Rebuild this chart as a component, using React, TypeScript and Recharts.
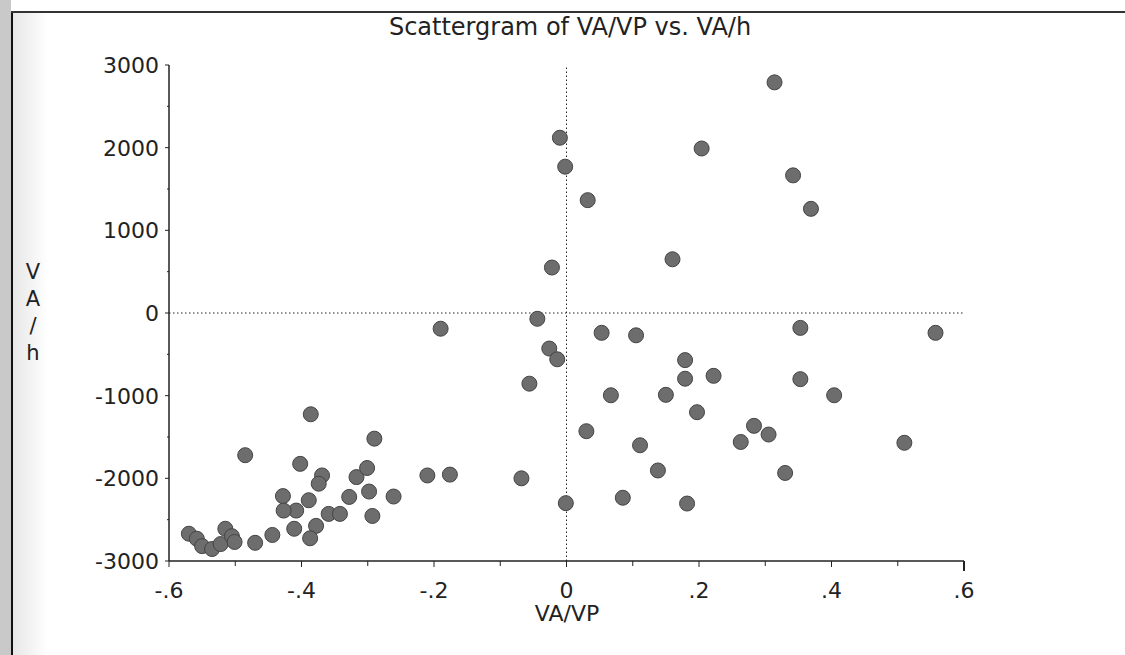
import React from "react";
import { ScatterChart, Scatter, XAxis, YAxis, ReferenceLine } from "recharts";

// VA/VP (x) and VA/h (y)
const vaVp = [
  0.314, -0.01, -0.002, 0.204, 0.342, 0.369, 0.032, 0.16, -0.022, -0.044,
  -0.19, -0.026, -0.014, -0.056, 0.053, 0.105, 0.179, 0.179, 0.067, 0.15,
  0.197, 0.03, 0.111, 0.138, -0.068, -0.001, 0.085, 0.182, 0.353, 0.557,
  0.222, 0.353, 0.404, 0.283, 0.305, 0.263, 0.51, 0.33,
  -0.176, -0.21, -0.386, -0.29, -0.485, -0.402, -0.369, -0.374, -0.317, -0.301,
  -0.298, -0.328, -0.261, -0.428, -0.389, -0.408, -0.427, -0.359, -0.342, -0.293,
  -0.411, -0.378, -0.387, -0.444, -0.47, -0.57, -0.558, -0.55, -0.535, -0.522,
  -0.515, -0.505, -0.501,
];
const vaH = [
  2790, 2120, 1770, 1990, 1665, 1260, 1365, 650, 550, -70,
  -190, -430, -560, -855, -240, -270, -570, -795, -995, -990,
  -1200, -1430, -1600, -1905, -2000, -2300, -2235, -2305, -180, -240,
  -760, -800, -995, -1365, -1470, -1560, -1570, -1935,
  -1955, -1965, -1225, -1520, -1720, -1825, -1965, -2065, -1985, -1875,
  -2160, -2225, -2220, -2215, -2265, -2390, -2390, -2430, -2430, -2455,
  -2610, -2575, -2725, -2685, -2780, -2670, -2730, -2820, -2855, -2795,
  -2610, -2700, -2770,
];

const xTicks = [-0.6, -0.5, -0.4, -0.3, -0.2, -0.1, 0, 0.1, 0.2, 0.3, 0.4, 0.5, 0.6];
const xTickLabels = ["-.6", "", "-.4", "", "-.2", "", "0", "", ".2", "", ".4", "", ".6"];
const yTicks = [-3000, -2500, -2000, -1500, -1000, -500, 0, 500, 1000, 1500, 2000, 2500, 3000];
const yTickLabels = ["-3000", "", "-2000", "", "-1000", "", "0", "", "1000", "", "2000", "", "3000"];

const points = vaVp.map((x, i) => ({ x, y: vaH[i] }));

const font = "'DejaVu Sans', sans-serif";
const ink = "#222";

function XTick(props: any) {
  const { x, y, index } = props;
  const label = xTickLabels[index];
  const end = index === xTicks.length - 1;
  return (
    <g>
      <line x1={x} x2={x} y1={y} y2={y + (end ? 10 : label ? 6 : 5)} stroke={ink} strokeWidth={end ? 2 : 1} />
      {label && (
        <text x={x} y={y + 37} textAnchor="middle" fontFamily={font} fontSize={22} fill={ink}>
          {label}
        </text>
      )}
    </g>
  );
}

function YTick(props: any) {
  const { x, y, index } = props;
  const label = yTickLabels[index];
  return (
    <g>
      <line x1={x - (label ? 4 : 2)} x2={x} y1={y} y2={y} stroke={ink} strokeWidth={1} />
      {label && (
        <text x={x - 10} y={y + 8} textAnchor="end" fontFamily={font} fontSize={22} fill={ink}>
          {label}
        </text>
      )}
    </g>
  );
}

function Dot(props: any) {
  return <circle cx={props.cx} cy={props.cy} r={7.5} fill="#6d6d6d" stroke="#444" strokeWidth={1} />;
}

export default function App() {
  return (
    <div style={{ position: "absolute", left: 0, top: 0, width: 1125, height: 655, background: "#fff", overflow: "hidden" }}>
      {/* scan frame */}
      <div style={{ position: "absolute", left: 0, top: 0, width: 11, height: 655, background: "#c9c9c9" }} />
      <div style={{ position: "absolute", left: 12, top: 12, width: 36, height: 643, background: "linear-gradient(to right, #e6e6e6, #ffffff)" }} />
      <div style={{ position: "absolute", left: 11, top: 11, width: 2, height: 644, background: "#111" }} />
      <div style={{ position: "absolute", left: 11, top: 11, width: 1114, height: 2, background: "#333" }} />

      <div style={{ position: "absolute", left: 0, top: 0 }}>
        <ScatterChart width={1125} height={655} margin={{ top: 65, right: 161, bottom: 44, left: 69 }}>
          <XAxis
            type="number"
            dataKey="x"
            domain={[-0.6, 0.6]}
            ticks={xTicks}
            interval={0}
            height={50}
            tickSize={0}
            tickMargin={0}
            tickLine={false}
            tick={<XTick />}
            axisLine={{ stroke: ink, strokeWidth: 1.5 }}
            allowDataOverflow
          />
          <YAxis
            type="number"
            dataKey="y"
            domain={[-3000, 3000]}
            ticks={yTicks}
            interval={0}
            width={100}
            tickSize={0}
            tickMargin={0}
            tickLine={false}
            tick={<YTick />}
            axisLine={{ stroke: ink, strokeWidth: 1.5 }}
            allowDataOverflow
          />
          <ReferenceLine y={0} stroke={ink} strokeDasharray="1.5 2.5" />
          <ReferenceLine x={0} stroke={ink} strokeDasharray="1.5 2.5" />
          <Scatter data={points} shape={<Dot />} isAnimationActive={false} />
        </ScatterChart>
      </div>

      <div style={{ position: "absolute", left: 0, width: 1140, top: 13, textAlign: "center", fontFamily: font, fontSize: 24, color: ink, whiteSpace: "nowrap" }}>
        Scattergram of VA/VP vs. VA/h
      </div>
      <div style={{ position: "absolute", left: 18, width: 30, top: 259, textAlign: "center", fontFamily: font, fontSize: 21, lineHeight: "27px", color: ink }}>
        <div>V</div>
        <div>A</div>
        <div>/</div>
        <div>h</div>
      </div>
      <div style={{ position: "absolute", left: 467, width: 200, top: 601, textAlign: "center", fontFamily: font, fontSize: 22, color: ink }}>
        VA/VP
      </div>
    </div>
  );
}
